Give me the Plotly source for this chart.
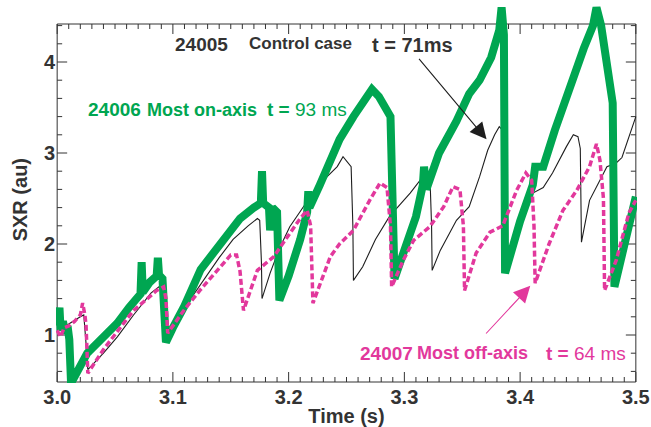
import plotly.graph_objects as go

# ---------------- data ----------------
green_t = [3.000, 3.002, 3.003, 3.005, 3.007, 3.009, 3.0105, 3.012, 3.026, 3.040, 3.052, 3.062,
           3.072, 3.073, 3.074, 3.080, 3.086, 3.087, 3.088, 3.091, 3.093, 3.094, 3.100, 3.110,
           3.124, 3.140, 3.158, 3.170, 3.176, 3.177, 3.178, 3.183, 3.184, 3.186, 3.190, 3.192,
           3.200, 3.210, 3.216, 3.217, 3.218, 3.227, 3.244, 3.256, 3.265, 3.272, 3.278, 3.288,
           3.2915, 3.300, 3.310, 3.316, 3.317, 3.319, 3.330, 3.345, 3.356, 3.365, 3.375, 3.382,
           3.384, 3.386, 3.387, 3.400, 3.411, 3.413, 3.420, 3.430, 3.443, 3.455, 3.463, 3.466,
           3.470, 3.475, 3.480, 3.4815, 3.490, 3.500]
green_v = [1.10, 1.30, 1.05, 1.15, 1.02, 1.10, 0.95, 0.47, 0.80, 0.98, 1.13, 1.30,
           1.45, 1.80, 1.47, 1.58, 1.65, 1.85, 1.66, 1.62, 1.20, 0.92, 1.08, 1.32,
           1.72, 2.00, 2.28, 2.40, 2.45, 2.80, 2.45, 2.40, 2.15, 2.40, 2.35, 1.38,
           1.65, 2.05, 2.35, 2.58, 2.40, 2.65, 3.15, 3.40, 3.58, 3.70, 3.62, 3.40,
           1.62, 1.95, 2.30, 2.65, 2.85, 2.60, 3.00, 3.35, 3.65, 3.80, 4.05, 4.35,
           4.60, 4.30, 1.68, 2.25, 2.65, 2.85, 2.85, 3.25, 3.75, 4.15, 4.40, 4.60,
           4.40, 3.95, 3.55, 1.53, 1.95, 2.52]

black_t = [3.000, 3.010, 3.020, 3.023, 3.025, 3.0265, 3.040, 3.052, 3.066, 3.081, 3.090, 3.092,
           3.094, 3.0955, 3.110, 3.124, 3.140, 3.152, 3.165, 3.173, 3.175, 3.1765, 3.177, 3.184,
           3.192, 3.201, 3.215, 3.230, 3.242, 3.247, 3.251, 3.254, 3.2555, 3.256, 3.264, 3.275,
           3.287, 3.297, 3.305, 3.316, 3.322, 3.3235, 3.324, 3.331, 3.345, 3.356, 3.365, 3.372,
           3.378, 3.382, 3.385, 3.386, 3.387, 3.400, 3.411, 3.420, 3.428, 3.440, 3.446, 3.450,
           3.452, 3.453, 3.460, 3.475, 3.483, 3.488, 3.492, 3.500]
black_v = [1.05, 1.12, 1.20, 1.22, 0.90, 0.62, 0.80, 0.98, 1.22, 1.46, 1.55, 1.57,
           1.20, 0.95, 1.30, 1.55, 1.85, 2.05, 2.20, 2.28, 2.26, 1.80, 1.40, 1.68,
           1.95, 2.19, 2.45, 2.70, 2.85, 2.96, 2.90, 2.85, 2.20, 1.60, 1.75, 2.05,
           2.30, 2.45, 2.56, 2.74, 2.78, 2.20, 1.71, 1.93, 2.26, 2.41, 2.74, 3.03,
           3.20, 3.29, 3.25, 2.50, 1.70, 2.20, 2.56, 2.62, 2.78, 3.07, 3.20, 3.18,
           3.05, 2.02, 2.48, 2.85, 2.89, 2.95, 3.10, 3.40]

pink_t = [3.000, 3.003, 3.006, 3.010, 3.015, 3.020, 3.022, 3.024, 3.025, 3.0265, 3.040, 3.050,
          3.066, 3.078, 3.086, 3.092, 3.094, 3.0955, 3.110, 3.124, 3.141, 3.150, 3.155, 3.158,
          3.161, 3.173, 3.187, 3.199, 3.210, 3.216, 3.219, 3.221, 3.236, 3.244, 3.256, 3.270,
          3.279, 3.285, 3.288, 3.289, 3.299, 3.308, 3.322, 3.334, 3.342, 3.348, 3.351, 3.352,
          3.362, 3.374, 3.385, 3.397, 3.405, 3.410, 3.412, 3.413, 3.425, 3.437, 3.449, 3.460,
          3.466, 3.469, 3.472, 3.473, 3.483, 3.494, 3.500]
pink_v = [1.05, 0.98, 1.08, 1.10, 1.15, 1.22, 1.35, 1.22, 1.10, 0.58, 0.84, 1.00,
          1.27, 1.40, 1.49, 1.53, 1.40, 1.02, 1.28, 1.50, 1.75, 1.88, 1.88, 1.70,
          1.27, 1.71, 1.86, 2.08, 2.28, 2.37, 2.20, 1.35, 1.86, 2.00, 2.15, 2.48,
          2.67, 2.62, 2.20, 1.53, 1.82, 2.04, 2.19, 2.41, 2.63, 2.60, 2.20, 1.49,
          1.90, 2.13, 2.20, 2.59, 2.78, 2.70, 2.20, 1.57, 2.00, 2.37, 2.59, 2.85,
          3.10, 2.92, 2.50, 1.49, 1.82, 2.34, 2.48]

x_tickvals = [3.0, 3.1, 3.2, 3.3, 3.4, 3.5]
x_ticklabels = ["3.0", "3.1", "3.2", "3.3", "3.4", "3.5"]
y_tickvals = [1, 2, 3, 4]
y_ticklabels = ["1", "2", "3", "4"]
x_minor_step = 0.01
y_minor_step = 0.2

# ---------------- styles / geometry ----------------
GREEN = "#00a651"
PINK = "#e2389c"
DARK = "#333333"
XR = [3.0, 3.5]                       # frame (data window) in x
YR = [0.4835, 4.4176]                 # frame (data window) in y
PX_PER_S = 1157.0                     # approx. pixels per second on x
PX_PER_U = 91.0                       # pixels per SXR unit on y
X_VIEW = [XR[0] - 0.001, XR[1] + 0.001]
Y_VIEW = [YR[0] - 1 / PX_PER_U, YR[0] - 1 / PX_PER_U + 381 / PX_PER_U]  # lets peaks overshoot
AXFONT = dict(family="Liberation Sans, Arial", size=20, color=DARK, weight="bold")

# ---------------- frame + tick marks (built from the axis settings) ----------------
fx, fy = [XR[0], XR[1], XR[1], XR[0], XR[0], None], [YR[0], YR[0], YR[1], YR[1], YR[0], None]
n_xminor = int(round((XR[1] - XR[0]) / x_minor_step))
for i in range(n_xminor + 1):
    t = round(XR[0] + i * x_minor_step, 4)
    major = any(abs(t - m) < 1e-9 for m in x_tickvals)
    ln = (10 if major else 5) / PX_PER_U
    fx += [t, t, None, t, t, None]
    fy += [YR[0], YR[0] + ln, None, YR[1], YR[1] - ln, None]
n_yminor = int(YR[1] / y_minor_step) + 1
for i in range(n_yminor + 1):
    v = round(i * y_minor_step, 4)
    if v <= YR[0] or v >= YR[1]:
        continue
    major = any(abs(v - m) < 1e-9 for m in y_tickvals)
    ln = (10 if major else 5) / PX_PER_S
    fx += [XR[0], XR[0] + ln, None, XR[1], XR[1] - ln, None]
    fy += [v, v, None, v, v, None]

fig = go.Figure()
fig.add_trace(go.Scatter(x=fx, y=fy, mode="lines", hoverinfo="skip",
                         line=dict(color=DARK, width=1), name="frame"))
fig.add_trace(go.Scatter(x=black_t, y=black_v, mode="lines",
                         line=dict(color="#1e1e1e", width=1.1), name="24005"))
fig.add_trace(go.Scatter(x=green_t, y=green_v, mode="lines",
                         line=dict(color=GREEN, width=8), name="24006"))
fig.add_trace(go.Scatter(x=pink_t, y=pink_v, mode="lines",
                         line=dict(color=PINK, width=3.5, dash="6px,3px"), name="24007"))

fig.update_layout(
    width=651, height=427,
    margin=dict(l=56, r=14, t=2, b=44),
    paper_bgcolor="white", plot_bgcolor="white",
    showlegend=False,
    xaxis=dict(range=X_VIEW, tickmode="array", tickvals=x_tickvals, ticktext=x_ticklabels,
               ticks="", showline=False, showgrid=False, zeroline=False,
               ticklabeloverflow="allow", tickfont=AXFONT, automargin=False,
               title=dict(text="Time (s)", font=AXFONT, standoff=2)),
    yaxis=dict(range=Y_VIEW, tickmode="array", tickvals=y_tickvals, ticktext=y_ticklabels,
               ticks="", showline=False, showgrid=False, zeroline=False,
               tickfont=AXFONT, automargin=False),
)

# y-axis title at the frame centre
fig.add_annotation(x=-0.062, y=0.482, xref="paper", yref="paper", text="SXR (au)",
                   textangle=-90, showarrow=False, xanchor="center", yanchor="middle",
                   font=AXFONT)

def txt(x, y, text, color, size, bold=True):
    fig.add_annotation(x=x, y=y, xref="x", yref="y", text=text, showarrow=False,
                       xanchor="left", yanchor="middle",
                       font=dict(family="Liberation Sans, Arial", size=size, color=color,
                                 weight="bold" if bold else "normal"))

# 24005 control
txt(3.1004, 4.19, "24005", DARK, 19)
txt(3.1642, 4.20, "Control case", DARK, 17)
txt(3.2703, 4.19, "t = 71ms", DARK, 20)
# 24006 on-axis
txt(3.0246, 3.473, "24006", GREEN, 19)
txt(3.0763, 3.473, "Most on-axis", GREEN, 18)
txt(3.1797, 3.473, "<b>t =</b> 93 ms", GREEN, 19, bold=False)
# 24007 off-axis
txt(3.2600, 0.80, "24007", PINK, 19)
txt(3.3090, 0.80, "Most off-axis", PINK, 18)
txt(3.4210, 0.80, "<b>t =</b> 64 ms", PINK, 19, bold=False)

# arrows
fig.add_annotation(x=3.371, y=3.15, ax=3.3116, ay=4.05, xref="x", yref="y",
                   axref="x", ayref="y", showarrow=True, text="",
                   arrowhead=2, arrowsize=3, arrowwidth=1.1, arrowcolor="#1e1e1e")
fig.add_annotation(x=3.4088, y=1.54, ax=3.3694, ay=1.0, xref="x", yref="y",
                   axref="x", ayref="y", showarrow=True, text="",
                   arrowhead=2, arrowsize=3, arrowwidth=1.1, arrowcolor=PINK)

fig.write_html("out.html")
